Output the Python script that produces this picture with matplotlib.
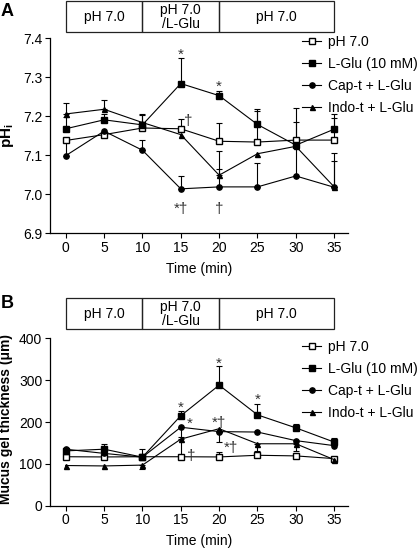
import matplotlib
matplotlib.use("Agg")
import matplotlib.pyplot as plt
import matplotlib.transforms as mtransforms
from matplotlib.patches import Rectangle
from matplotlib.lines import Line2D
import numpy as np

plt.rcParams['font.family'] = ['Liberation Sans', 'DejaVu Sans']
plt.rcParams['mathtext.fontset'] = 'custom'
plt.rcParams['mathtext.rm'] = 'Liberation Sans'
plt.rcParams['mathtext.bf'] = 'Liberation Sans:bold'

time_min = [0, 5, 10, 15, 20, 25, 30, 35]
labels = ["pH 7.0", "L-Glu (10 mM)", "Cap-t + L-Glu", "Indo-t + L-Glu"]
box_labels = ["pH 7.0", "pH 7.0\n/L-Glu", "pH 7.0"]
box_edges = [0, 10, 20, 35]

# panel A: intracellular pH
phA_ctrl = [7.138, 7.153, 7.170, 7.168, 7.136, 7.134, 7.139, 7.139]
phA_ctrl_hi = [0.0, 0.0, 0.0, 0.024, 0.048, 0.079, 0.083, 0.056]
phA_glu = [7.168, 7.191, 7.178, 7.284, 7.253, 7.179, 7.126, 7.167]
phA_glu_hi = [0.03, 0.015, 0.028, 0.066, 0.012, 0.041, 0.06, 0.038]
phA_cap = [7.099, 7.162, 7.113, 7.014, 7.019, 7.019, 7.047, 7.018]
phA_cap_hi = [0.04, 0.0, 0.027, 0.032, 0.047, 0.062, 0.075, 0.067]
phA_indo = [7.206, 7.218, 7.184, 7.153, 7.049, 7.104, 7.123, 7.019]
phA_indo_hi = [0.029, 0.024, 0.02, 0.0, 0.062, 0.0, 0.0, 0.086]

# panel B: mucus gel thickness (um)
mgB_ctrl = [117, 116.5, 117, 117, 116.5, 120.5, 119, 112.5]
mgB_ctrl_hi = [0, 0, 0, 0, 12, 0, 0, 0]
mgB_ctrl_lo = [0, 0, 0, 0, 0, 0, 0, 9]
mgB_glu = [131, 135, 116, 215, 288, 217, 186, 152]
mgB_glu_hi = [5, 12, 19, 12, 45, 26, 10, 10]
mgB_cap = [135, 125, 116, 187.5, 177, 176, 155.5, 143.5]
mgB_cap_lo = [0, 0, 0, 23, 25, 0, 0, 0]
mgB_indo = [96, 95, 97, 159, 184, 148, 148, 110]
mgB_indo_lo = [0, 0, 9, 38, 0, 18, 17, 0]

# significance marks: (x, y, text)
marksA = [(15, 7.358, "*"), (20, 7.275, "*"), (16.0, 7.188, "†"),
          (15, 6.962, "*†"), (20, 6.962, "†")]
marksB = [(15, 234, "*"), (16.2, 196, "*"), (16.3, 118, "†"), (20, 340, "*"),
          (20, 198, "*†"), (21.5, 138, "*†"), (25, 254, "*")]

W, H = 420, 549
fig = plt.figure(figsize=(W / 100, H / 100), dpi=100)

styles = [dict(marker='s', mfc='white', ms=4.2),
          dict(marker='s', mfc='black', ms=4.2),
          dict(marker='o', mfc='black', ms=3.8),
          dict(marker='^', mfc='black', ms=3.6)]


def px_axes(l, t, r, b):
    return fig.add_axes([l / W, 1 - b / H, (r - l) / W, (b - t) / H])


def draw_err(ax, y, err, up=True):
    y = np.array(y, float)
    err = np.array(err, float)
    m = err > 0
    x = np.array(time_min)[m]
    if up:
        yerr = [np.zeros(m.sum()), err[m]]
    else:
        yerr = [err[m], np.zeros(m.sum())]
    ax.errorbar(x, y[m], yerr=yerr, fmt='none', ecolor='black',
                elinewidth=0.8, capsize=2.2, capthick=0.8, zorder=2)


def style_axes(ax):
    for s in ['top', 'right']:
        ax.spines[s].set_visible(False)
    for s in ['left', 'bottom']:
        ax.spines[s].set_linewidth(0.9)
    ax.tick_params(direction='out', length=3.5, width=0.8, labelsize=10, pad=2)
    ax.set_xlim(-2.05, 36.8)
    ax.set_xticks(time_min)
    ax.set_xlabel("Time (min)", fontsize=10, labelpad=5)


def draw_boxes(ax, y0, y1):
    tr = mtransforms.blended_transform_factory(ax.transData, ax.transAxes)
    for i in range(3):
        ax.add_patch(Rectangle((box_edges[i], y0), box_edges[i + 1] - box_edges[i], y1 - y0,
                               transform=tr, fill=False, lw=0.9, ec='#222222', clip_on=False))
        ax.text((box_edges[i] + box_edges[i + 1]) / 2, (y0 + y1) / 2, box_labels[i],
                transform=tr, ha='center', va='center', fontsize=10, linespacing=1.0)


def draw_legend(ax, top_px):
    handles = [Line2D([], [], color='black', lw=0.8, mec='black', **st) for st in styles]
    ax.legend(handles, labels, loc='upper left', bbox_to_anchor=(302 / W, 1 - top_px / H),
              bbox_transform=fig.transFigure, frameon=False, fontsize=10,
              borderpad=0, borderaxespad=0, handlelength=1.4, handletextpad=0.5,
              labelspacing=0.58)


# ---- panel A
axA = px_axes(50, 38.3, 348, 233.3)
seriesA = [(phA_ctrl, phA_ctrl_hi), (phA_glu, phA_glu_hi), (phA_cap, phA_cap_hi), (phA_indo, phA_indo_hi)]
for (y, hi), st in zip(seriesA, styles):
    draw_err(axA, y, hi)
    axA.plot(time_min, y, color='black', lw=0.8, mec='black', zorder=3, **st)
axA.set_ylim(6.9, 7.4)
axA.set_yticks([6.9, 7.0, 7.1, 7.2, 7.3, 7.4])
axA.set_yticklabels(["6.9", "7.0", "7.1", "7.2", "7.3", "7.4"])
style_axes(axA)
axA.set_ylabel(r"$\mathbf{pH_i}$", fontsize=11, labelpad=5)
for x, y, s in marksA:
    axA.text(x, y, s, ha='center', va='center', fontsize=11, color='#333333')
draw_boxes(axA, 1.034, 1.189)
draw_legend(axA, 35)
fig.text(0.002, 1 - 12 / H, "A", fontsize=13, fontweight='bold', va='center')

# ---- panel B
axB = px_axes(50, 338.3, 348, 505.7)
draw_err(axB, mgB_ctrl, mgB_ctrl_hi)
draw_err(axB, mgB_ctrl, mgB_ctrl_lo, up=False)
draw_err(axB, mgB_glu, mgB_glu_hi)
draw_err(axB, mgB_cap, mgB_cap_lo, up=False)
draw_err(axB, mgB_indo, mgB_indo_lo, up=False)
for y, st in zip([mgB_ctrl, mgB_glu, mgB_cap, mgB_indo], styles):
    axB.plot(time_min, y, color='black', lw=0.8, mec='black', zorder=3, **st)
axB.set_ylim(0, 400)
axB.set_yticks([0, 100, 200, 300, 400])
style_axes(axB)
axB.set_ylabel("Mucus gel thickness (μm)", fontsize=10, fontweight='bold', labelpad=4)
axB.yaxis.set_label_coords(-0.125, 0.52)
for x, y, s in marksB:
    axB.text(x, y, s, ha='center', va='center', fontsize=11, color='#333333')
draw_boxes(axB, 1.054, 1.239)
draw_legend(axB, 340)
fig.text(0.002, 1 - 12 / H - 292 / H, "B", fontsize=13, fontweight='bold', va='center')

fig.savefig("out.png", dpi=100)
